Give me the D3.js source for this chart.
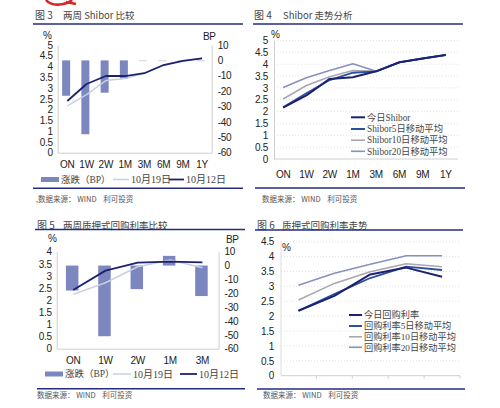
<!DOCTYPE html>
<html><head><meta charset="utf-8">
<script src="https://cdn.jsdelivr.net/npm/d3@7"></script>
<style>
body{margin:0;background:#fff;}
svg{display:block;}
.ax text{font-family:"Liberation Sans",Arial,sans-serif;font-size:10px;fill:#222;letter-spacing:-0.3px;}
.ax path{stroke:#cfcfcf;}
.ax line{stroke:#cfcfcf;}
</style>
</head><body>
<script>
// ---------- data ----------
const cats8 = ["ON","1W","2W","1M","3M","6M","9M","1Y"];
const cats5 = ["ON","1W","2W","1M","3M"];
// Figure 3: two-week Shibor comparison
const shibor1019 = [2.17,2.70,3.35,3.44,3.69,4.07,4.26,4.38];
const shibor1012 = [2.40,3.19,3.56,3.56,3.69,4.07,4.26,4.38];
const shiborChgBP = [-23,-48,-21,-12,-0.5,0,0,0];
// Figure 4: Shibor trend
const shiborToday = [2.17,2.68,3.38,3.45,3.70,4.08,4.24,4.39];
const shiborMA5  = [2.18,2.77,3.33,3.64,3.70,4.08,4.24,4.39];
const shiborMA10 = [2.53,3.10,3.47,3.73,3.70,4.08,4.24,4.39];
const shiborMA20 = [3.02,3.43,3.73,4.02,3.70,4.08,4.24,4.39];
// Figure 5: two-week repo comparison
const repo1019 = [2.24,2.72,3.38,3.66,3.34];
const repo1012 = [2.42,3.22,3.55,3.59,3.56];
const repoChgBP = [-18,-51,-17,7,-22];
// Figure 6: repo trend
const repoToday = [2.18,2.68,3.40,3.63,3.32];
const repoMA5  = [2.18,2.74,3.28,3.66,3.55];
const repoMA10 = [2.54,3.10,3.49,3.76,3.66];
const repoMA20 = [3.04,3.44,3.74,4.03,4.03];
const pctTicks5 = [0,0.5,1,1.5,2,2.5,3,3.5,4,4.5,5];
const pctTicks4 = [0,0.5,1,1.5,2,2.5,3,3.5,4];
const pctTicks45 = [0,0.5,1,1.5,2,2.5,3,3.5,4,4.5];
const bpTicks = [-60,-50,-40,-30,-20,-10,0,10];

// ---------- colours ----------
const NAVY="#1b2270", BLUE="#2c4f9e", GRAY="#a8a8ae", STEEL="#8891bd", LIGHT="#c9cfe2", BAR="#7c87c0", RULE="#242c80";
const CJK='"Noto Sans CJK SC",sans-serif';
const SERIF='"Liberation Serif","Noto Sans CJK SC",serif';

const svg = d3.select("body").append("svg").attr("width",500).attr("height",408);

// logo fragment at top
svg.append("path").attr("d","M46,0 C50,5 58,5 63,4 C67,3 70,2 72,0 M66,2 L76,4")
  .attr("fill","none").attr("stroke","#d8262c").attr("stroke-width",2.6);

function frame(o){
  const t = svg.append("text").attr("x",o.tx).attr("y",o.ty).attr("dy","0.35em")
    .attr("font-size",10).attr("fill","#444");
  t.append("tspan").attr("font-family",CJK).text(o.fig);
  t.append("tspan").attr("x",o.tx2).attr("font-family",CJK).attr("font-size",9.5).text(o.title);
  svg.append("line").attr("x1",o.l1[0]).attr("x2",o.l1[1]).attr("y1",o.l1[2]).attr("y2",o.l1[2])
    .attr("stroke",RULE).attr("stroke-width",1.6);
  svg.append("line").attr("x1",o.l2[0]).attr("x2",o.l2[1]).attr("y1",o.l2[2]).attr("y2",o.l2[2])
    .attr("stroke",RULE).attr("stroke-width",1.6);
  svg.append("text").attr("x",o.sx).attr("y",o.sy).attr("dy","0.35em").attr("font-family",CJK)
    .attr("font-size",7.5).attr("fill","#555").attr("xml:space","preserve").style("white-space","pre").text(o.src);
}

function leftAxis(y, ticks, xPos, domainLine){
  const g = svg.append("g").attr("class","ax").attr("transform",`translate(${xPos},0)`)
    .call(d3.axisLeft(y).tickValues(ticks).tickSize(0).tickPadding(5).tickFormat(d=>String(d)));
  if(!domainLine) g.select(".domain").remove();
  return g;
}
function rightAxis(y, ticks, xPos, pad){
  return svg.append("g").attr("class","ax").attr("transform",`translate(${xPos},0)`)
    .call(d3.axisRight(y).tickValues(ticks).tickSize(0).tickPadding(pad).tickFormat(d=>String(d)));
}
function bottomAxis(x, yPos, labels, pad){
  return svg.append("g").attr("class","ax").attr("transform",`translate(0,${yPos})`)
    .call(d3.axisBottom(x).tickSize(0).tickPadding(pad).tickFormat(labels?(d=>d):(()=>"")));
}
function bandTicks(x, yPos){
  x.domain().forEach((c,i)=>{ if(i>0) svg.append("line").attr("x1",x(c)).attr("x2",x(c))
    .attr("y1",yPos).attr("y2",yPos+3).attr("stroke","#cfcfcf"); });
  svg.append("line").attr("x1",x.range()[1]).attr("x2",x.range()[1]).attr("y1",yPos).attr("y2",yPos+3).attr("stroke","#cfcfcf");
}
function grid(y, ticks, x0, x1){
  svg.append("g").selectAll("line").data(ticks.filter(t=>t>0)).join("line")
    .attr("x1",x0).attr("x2",x1).attr("y1",d=>y(d)).attr("y2",d=>y(d))
    .attr("stroke","#e2e2e6").attr("stroke-dasharray","1,2");
}
function drawLine(x, y, cats, vals, color, w){
  const bw = x.bandwidth();
  svg.append("path").datum(vals.map((v,i)=>[cats[i],v]))
    .attr("fill","none").attr("stroke",color).attr("stroke-width",w).attr("stroke-linejoin","round")
    .attr("d", d3.line().x(d=>x(d[0])+bw/2).y(d=>y(d[1])));
}
function drawBars(x, y, cats, vals, w, off){
  const bw = x.bandwidth();
  svg.append("g").selectAll("rect").data(vals.map((v,i)=>[cats[i],v])).join("rect")
    .attr("x",d=>x(d[0])+bw/2-w/2+off).attr("width",w)
    .attr("y",d=>y(Math.max(0,d[1]))).attr("height",d=>Math.max(0.8,Math.abs(y(d[1])-y(0))))
    .attr("fill",d=>Math.abs(d[1])<1?"#c4c6d0":BAR);
}
function unitLabel(x,y,t){
  svg.append("text").attr("x",x).attr("y",y).attr("dy","0.35em").attr("font-family","Liberation Sans,Arial,sans-serif")
    .attr("font-size",10).attr("letter-spacing","-0.5px").attr("fill","#222").text(t);
}
function legendLine(x1,x2,y,color,w,label,fs){
  svg.append("line").attr("x1",x1).attr("x2",x2).attr("y1",y).attr("y2",y).attr("stroke",color).attr("stroke-width",w);
  svg.append("text").attr("x",x2+2).attr("y",y).attr("dy","0.35em").attr("font-family",SERIF)
    .attr("font-size",fs||10).attr("fill","#444").text(label);
}
function legendBar(x1,x2,y,label){
  svg.append("rect").attr("x",x1).attr("y",y-2.5).attr("width",x2-x1).attr("height",5).attr("fill",BAR);
  svg.append("text").attr("x",x2+2).attr("y",y).attr("dy","0.35em").attr("font-family",SERIF)
    .attr("font-size",9.5).attr("fill","#444").text(label);
}

// ---------- Figure 3 ----------
frame({tx:35,ty:15,tx2:63,fig:"图 3",title:"两周 Shibor 比较",l1:[33,243,24],l2:[33,243,188.3],sx:36,sy:199,src:",数据来源： WIND    利可投资"});
{
  const x = d3.scaleBand().domain(cats8).range([57.7,211.7]);
  const yL = d3.scaleLinear().domain([0,5]).range([152.7,45]);
  const yR = d3.scaleLinear().domain([-60,10]).range([152.7,45]);
  leftAxis(yL,pctTicks5,57.7,true);
  rightAxis(yR,bpTicks,211.7,6);
  bottomAxis(x,152.7,true,8);
  drawBars(x,yR,cats8,shiborChgBP,8,-1.2);
  drawLine(x,yL,cats8,shibor1019,LIGHT,1.5);
  drawLine(x,yL,cats8,shibor1012,NAVY,1.8);
  unitLabel(43,35,"%");
  unitLabel(203,36,"BP");
  legendBar(41,59,179.5,"涨跌（BP）");
  legendLine(113,129,179.5,LIGHT,1.5,"10月19日");
  legendLine(169,184,179.5,NAVY,1.8,"10月12日");
}

// ---------- Figure 4 ----------
frame({tx:254,ty:15,tx2:283,fig:"图 4",title:"Shibor 走势分析",l1:[253,463,24],l2:[255,465,188],sx:262,sy:199,src:"数据来源： WIND    利可投资"});
{
  const x = d3.scaleBand().domain(cats8).range([271.5,457.5]);
  const y = d3.scaleLinear().domain([0,5]).range([159,40.5]);
  grid(y,pctTicks5,274,458);
  leftAxis(y,pctTicks5,274,true).selectAll("text").attr("dx",-1);
  svg.append("line").attr("x1",274).attr("x2",458).attr("y1",159).attr("y2",159).attr("stroke","#cfcfcf");
  bottomAxis(x,159,true,12).select(".domain").remove();
  drawLine(x,y,cats8,shiborMA20,STEEL,1.6);
  drawLine(x,y,cats8,shiborMA10,GRAY,1.6);
  drawLine(x,y,cats8,shiborMA5,BLUE,1.8);
  drawLine(x,y,cats8,shiborToday,NAVY,2);
  unitLabel(271,34,"%");
  legendLine(351,365,117.3,NAVY,2,"今日Shibor",9.3);
  legendLine(351,365,129,BLUE,2,"Shibor5日移动平均",9.3);
  legendLine(351,365,140.2,GRAY,1.6,"Shibor10日移动平均",9.3);
  legendLine(351,365,151.3,STEEL,1.6,"Shibor20日移动平均",9.3);
}

// ---------- Figure 5 ----------
frame({tx:37,ty:225,tx2:63,fig:"图 5",title:"两周质押式回购利率比较",l1:[35,245,229.5],l2:[37,245,388.7],sx:37,sy:395.5,src:"数据来源： WIND    利可投资"});
{
  const x = d3.scaleBand().domain(cats5).range([57,218.6]);
  const yL = d3.scaleLinear().domain([0,4]).range([348.7,251.7]);
  const yR = d3.scaleLinear().domain([-60,10]).range([348.7,251.7]);
  leftAxis(yL,pctTicks4,56.7,true);
  rightAxis(yR,bpTicks,218.6,6);
  bottomAxis(x,348.7,true,8);
  drawBars(x,yR,cats5,repoChgBP,12.5,-1);
  drawLine(x,yL,cats5,repo1019,LIGHT,1.5);
  drawLine(x,yL,cats5,repo1012,NAVY,1.8);
  unitLabel(48,238,"%");
  unitLabel(226,239,"BP");
  legendBar(45,63,374,"涨跌（BP）");
  legendLine(113,131,374,LIGHT,1.5,"10月19日");
  legendLine(180,197,374,NAVY,1.8,"10月12日");
}

// ---------- Figure 6 ----------
frame({tx:257,ty:225,tx2:282,fig:"图 6",title:"质押式回购利率走势",l1:[255,463,230],l2:[257,465,389],sx:263,sy:395.7,src:"数据来源： WIND    利可投资"});
{
  const x = d3.scaleBand().domain(cats5).range([280.5,460]);
  const y = d3.scaleLinear().domain([0,4.5]).range([375.7,241.7]);
  grid(y,pctTicks45,281,460);
  leftAxis(y,pctTicks45,279,false);
  svg.append("line").attr("x1",281).attr("x2",281).attr("y1",241.7).attr("y2",375.7).attr("stroke","#dcdcdc");
  svg.append("line").attr("x1",281).attr("x2",460).attr("y1",375.7).attr("y2",375.7).attr("stroke","#cfcfcf");
  bottomAxis(x,375.7,false,8).select(".domain").remove();
  bandTicks(x,375.7);
  drawLine(x,y,cats5,repoMA20,STEEL,1.6);
  drawLine(x,y,cats5,repoMA10,GRAY,1.6);
  drawLine(x,y,cats5,repoMA5,BLUE,1.8);
  drawLine(x,y,cats5,repoToday,NAVY,2);
  unitLabel(282,247,"%");
  legendLine(349,362,315,NAVY,2,"今日回购利率",9.2);
  legendLine(349,362,326,BLUE,2,"回购利率5日移动平均",9.2);
  legendLine(349,362,336.8,GRAY,1.6,"回购利率10日移动平均",9.2);
  legendLine(349,362,347.3,STEEL,1.6,"回购利率20日移动平均",9.2);
}
</script>
</body></html>
